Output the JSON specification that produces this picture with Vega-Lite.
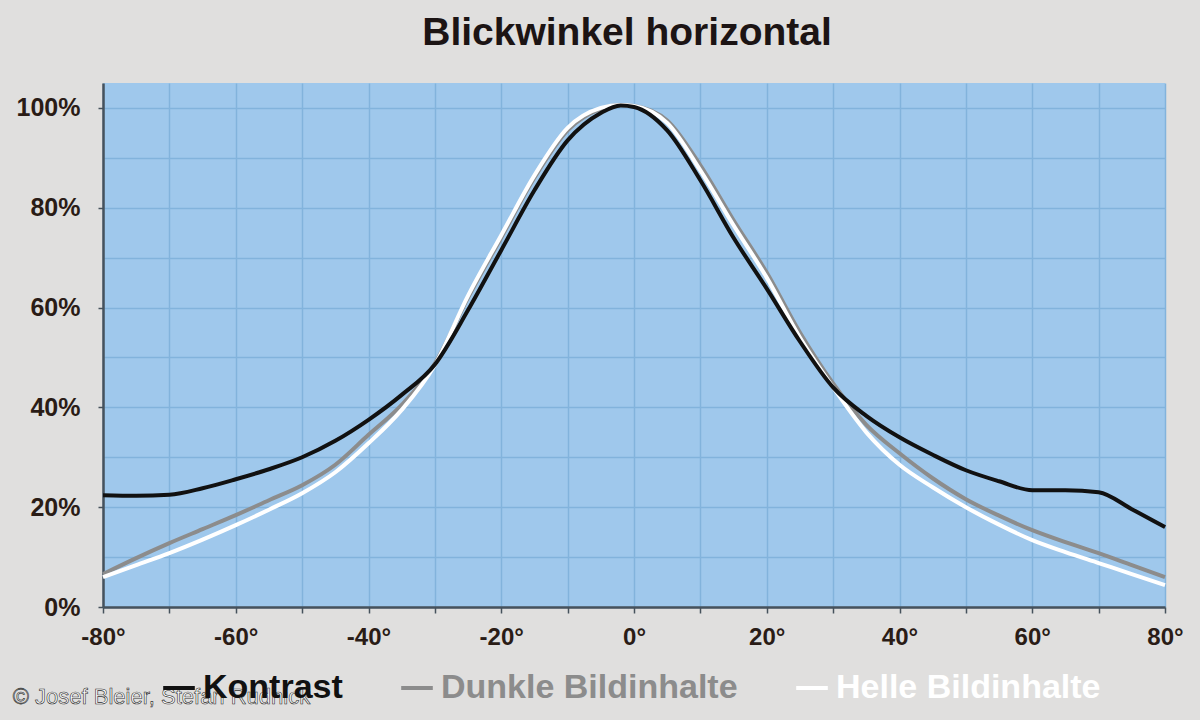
{
  "$schema": "https://vega.github.io/schema/vega-lite/v6.json",
  "width": 1062,
  "height": 524,
  "autosize": "none",
  "padding": {"left": 103, "top": 83, "right": 35, "bottom": 113},
  "background": "#e0dfde",
  "title": {
    "text": "Blickwinkel horizontal",
    "font": "Liberation Sans",
    "fontSize": 39,
    "fontWeight": "bold",
    "color": "#1c1414",
    "anchor": "middle",
    "offset": 30,
    "dx": -7
  },
  "config": {
    "view": {"fill": "#9fc8ec", "stroke": null},
    "axis": {
      "labelFont": "Liberation Sans",
      "labelFontWeight": "bold",
      "labelColor": "#2a1c16",
      "domainColor": "#46525c",
      "domainWidth": 2.5,
      "tickColor": "#46525c",
      "tickWidth": 1.5,
      "gridColor": "#82b3dc",
      "gridWidth": 1.5,
      "gridOpacity": 1,
      "title": null
    }
  },
  "data": {
    "values": [
      {"serie": "Dunkle Bildinhalte", "winkel": -80, "wert": 6.6},
      {"serie": "Dunkle Bildinhalte", "winkel": -75, "wert": 9.8},
      {"serie": "Dunkle Bildinhalte", "winkel": -70, "wert": 12.8},
      {"serie": "Dunkle Bildinhalte", "winkel": -65, "wert": 15.6},
      {"serie": "Dunkle Bildinhalte", "winkel": -60, "wert": 18.4},
      {"serie": "Dunkle Bildinhalte", "winkel": -55, "wert": 21.4},
      {"serie": "Dunkle Bildinhalte", "winkel": -50, "wert": 24.4},
      {"serie": "Dunkle Bildinhalte", "winkel": -45, "wert": 28.5},
      {"serie": "Dunkle Bildinhalte", "winkel": -40, "wert": 34.5},
      {"serie": "Dunkle Bildinhalte", "winkel": -35, "wert": 40.5},
      {"serie": "Dunkle Bildinhalte", "winkel": -30, "wert": 48.8},
      {"serie": "Dunkle Bildinhalte", "winkel": -25, "wert": 62},
      {"serie": "Dunkle Bildinhalte", "winkel": -20, "wert": 74},
      {"serie": "Dunkle Bildinhalte", "winkel": -15, "wert": 86},
      {"serie": "Dunkle Bildinhalte", "winkel": -10, "wert": 95.5},
      {"serie": "Dunkle Bildinhalte", "winkel": -5, "wert": 99.8},
      {"serie": "Dunkle Bildinhalte", "winkel": -2, "wert": 100.6},
      {"serie": "Dunkle Bildinhalte", "winkel": 0, "wert": 100.4},
      {"serie": "Dunkle Bildinhalte", "winkel": 5, "wert": 97.5},
      {"serie": "Dunkle Bildinhalte", "winkel": 10, "wert": 88.5},
      {"serie": "Dunkle Bildinhalte", "winkel": 15, "wert": 77.5},
      {"serie": "Dunkle Bildinhalte", "winkel": 20, "wert": 67},
      {"serie": "Dunkle Bildinhalte", "winkel": 25, "wert": 55},
      {"serie": "Dunkle Bildinhalte", "winkel": 30, "wert": 44.8},
      {"serie": "Dunkle Bildinhalte", "winkel": 35, "wert": 36.5},
      {"serie": "Dunkle Bildinhalte", "winkel": 40, "wert": 30.8},
      {"serie": "Dunkle Bildinhalte", "winkel": 45, "wert": 25.8},
      {"serie": "Dunkle Bildinhalte", "winkel": 50, "wert": 21.6},
      {"serie": "Dunkle Bildinhalte", "winkel": 55, "wert": 18.3},
      {"serie": "Dunkle Bildinhalte", "winkel": 60, "wert": 15.4},
      {"serie": "Dunkle Bildinhalte", "winkel": 65, "wert": 13},
      {"serie": "Dunkle Bildinhalte", "winkel": 70, "wert": 10.8},
      {"serie": "Dunkle Bildinhalte", "winkel": 75, "wert": 8.4},
      {"serie": "Dunkle Bildinhalte", "winkel": 80, "wert": 6},
      {"serie": "Helle Bildinhalte", "winkel": -80, "wert": 6},
      {"serie": "Helle Bildinhalte", "winkel": -75, "wert": 8.4},
      {"serie": "Helle Bildinhalte", "winkel": -70, "wert": 10.8},
      {"serie": "Helle Bildinhalte", "winkel": -65, "wert": 13.5},
      {"serie": "Helle Bildinhalte", "winkel": -60, "wert": 16.4},
      {"serie": "Helle Bildinhalte", "winkel": -55, "wert": 19.5},
      {"serie": "Helle Bildinhalte", "winkel": -50, "wert": 22.8},
      {"serie": "Helle Bildinhalte", "winkel": -45, "wert": 27},
      {"serie": "Helle Bildinhalte", "winkel": -40, "wert": 32.8},
      {"serie": "Helle Bildinhalte", "winkel": -35, "wert": 39.5},
      {"serie": "Helle Bildinhalte", "winkel": -30, "wert": 48.5},
      {"serie": "Helle Bildinhalte", "winkel": -25, "wert": 62.4},
      {"serie": "Helle Bildinhalte", "winkel": -20, "wert": 74.5},
      {"serie": "Helle Bildinhalte", "winkel": -15, "wert": 86.5},
      {"serie": "Helle Bildinhalte", "winkel": -10, "wert": 96},
      {"serie": "Helle Bildinhalte", "winkel": -5, "wert": 100},
      {"serie": "Helle Bildinhalte", "winkel": -2, "wert": 100.6},
      {"serie": "Helle Bildinhalte", "winkel": 0, "wert": 100.4},
      {"serie": "Helle Bildinhalte", "winkel": 5, "wert": 97},
      {"serie": "Helle Bildinhalte", "winkel": 10, "wert": 87.5},
      {"serie": "Helle Bildinhalte", "winkel": 15, "wert": 76.5},
      {"serie": "Helle Bildinhalte", "winkel": 20, "wert": 66},
      {"serie": "Helle Bildinhalte", "winkel": 25, "wert": 54},
      {"serie": "Helle Bildinhalte", "winkel": 30, "wert": 44},
      {"serie": "Helle Bildinhalte", "winkel": 35, "wert": 35},
      {"serie": "Helle Bildinhalte", "winkel": 40, "wert": 28.5},
      {"serie": "Helle Bildinhalte", "winkel": 45, "wert": 24},
      {"serie": "Helle Bildinhalte", "winkel": 50, "wert": 20},
      {"serie": "Helle Bildinhalte", "winkel": 55, "wert": 16.5},
      {"serie": "Helle Bildinhalte", "winkel": 60, "wert": 13.4},
      {"serie": "Helle Bildinhalte", "winkel": 65, "wert": 11},
      {"serie": "Helle Bildinhalte", "winkel": 70, "wert": 8.8},
      {"serie": "Helle Bildinhalte", "winkel": 75, "wert": 6.6},
      {"serie": "Helle Bildinhalte", "winkel": 80, "wert": 4.4},
      {"serie": "Kontrast", "winkel": -80, "wert": 22.4},
      {"serie": "Kontrast", "winkel": -75, "wert": 22.3},
      {"serie": "Kontrast", "winkel": -70, "wert": 22.5},
      {"serie": "Kontrast", "winkel": -65, "wert": 23.8},
      {"serie": "Kontrast", "winkel": -60, "wert": 25.6},
      {"serie": "Kontrast", "winkel": -55, "wert": 27.6},
      {"serie": "Kontrast", "winkel": -50, "wert": 30},
      {"serie": "Kontrast", "winkel": -45, "wert": 33.3},
      {"serie": "Kontrast", "winkel": -40, "wert": 37.5},
      {"serie": "Kontrast", "winkel": -35, "wert": 42.5},
      {"serie": "Kontrast", "winkel": -30, "wert": 48.6},
      {"serie": "Kontrast", "winkel": -25, "wert": 59.5},
      {"serie": "Kontrast", "winkel": -20, "wert": 71.5},
      {"serie": "Kontrast", "winkel": -15, "wert": 83.5},
      {"serie": "Kontrast", "winkel": -10, "wert": 93.5},
      {"serie": "Kontrast", "winkel": -5, "wert": 99},
      {"serie": "Kontrast", "winkel": -2, "wert": 100.5},
      {"serie": "Kontrast", "winkel": 0, "wert": 100.2},
      {"serie": "Kontrast", "winkel": 5, "wert": 95.5},
      {"serie": "Kontrast", "winkel": 10, "wert": 85.5},
      {"serie": "Kontrast", "winkel": 15, "wert": 74},
      {"serie": "Kontrast", "winkel": 20, "wert": 63.8},
      {"serie": "Kontrast", "winkel": 25, "wert": 53.2},
      {"serie": "Kontrast", "winkel": 30, "wert": 44},
      {"serie": "Kontrast", "winkel": 35, "wert": 38.3},
      {"serie": "Kontrast", "winkel": 40, "wert": 34},
      {"serie": "Kontrast", "winkel": 45, "wert": 30.5},
      {"serie": "Kontrast", "winkel": 50, "wert": 27.4},
      {"serie": "Kontrast", "winkel": 55, "wert": 25.2},
      {"serie": "Kontrast", "winkel": 60, "wert": 23.4},
      {"serie": "Kontrast", "winkel": 65, "wert": 23.4},
      {"serie": "Kontrast", "winkel": 70, "wert": 23},
      {"serie": "Kontrast", "winkel": 75, "wert": 19.6},
      {"serie": "Kontrast", "winkel": 80, "wert": 16}
    ]
  },
  "layer": [
    {
      "mark": {"type": "line", "interpolate": "monotone", "strokeWidth": 4},
      "encoding": {
        "x": {
          "field": "winkel",
          "type": "quantitative",
          "scale": {"domain": [-80, 80], "nice": false, "zero": false},
          "axis": {
            "values": [-80, -70, -60, -50, -40, -30, -20, -10, 0, 10, 20, 30, 40, 50, 60, 70, 80],
            "labelExpr": "datum.value % 20 === 0 ? datum.value + '°' : ''",
            "labelFontSize": 24,
            "tickSize": 6,
            "labelPadding": 12,
            "labelFlush": false,
            "labelOverlap": false
          }
        },
        "y": {
          "field": "wert",
          "type": "quantitative",
          "scale": {"domain": [0, 105], "nice": false},
          "axis": {
            "values": [0, 10, 20, 30, 40, 50, 60, 70, 80, 90, 100],
            "labelExpr": "datum.value % 20 === 0 ? datum.value + '%' : ''",
            "labelFontSize": 25,
            "tickSize": 5,
            "tickOpacity": {"condition": {"test": "datum.value % 20 === 0", "value": 1}, "value": 0},
            "labelPadding": 18,
            "labelOverlap": false
          }
        },
        "color": {
          "field": "serie",
          "type": "nominal",
          "scale": {
            "domain": ["Kontrast", "Dunkle Bildinhalte", "Helle Bildinhalte"],
            "range": ["#111111", "#8c8c8c", "#ffffff"]
          },
          "legend": {
            "orient": "none",
            "legendX": 58,
            "legendY": 587,
            "direction": "horizontal",
            "title": null,
            "symbolType": "stroke",
            "symbolSize": 1000,
            "symbolStrokeWidth": 4,
            "labelFont": "Liberation Sans",
            "labelFontWeight": "bold",
            "labelFontSize": 34,
            "labelOffset": 6,
            "labelLimit": 0,
            "columnPadding": 50,
            "encode": {
              "labels": {"update": {"fill": {"scale": "color", "field": "value"}}}
            }
          }
        }
      }
    },
    {
      "data": {"values": [{"hinweis": "© Josef Bleier, Stefan Rudnick"}]},
      "mark": {
        "type": "text",
        "align": "left",
        "baseline": "middle",
        "font": "Liberation Sans",
        "fontSize": 22,
        "fill": "#ffffff",
        "stroke": "#2a2a2a",
        "strokeWidth": 0.6
      },
      "encoding": {
        "x": {"datum": -93.6},
        "y": {"datum": -18},
        "text": {"field": "hinweis"}
      }
    }
  ]
}
